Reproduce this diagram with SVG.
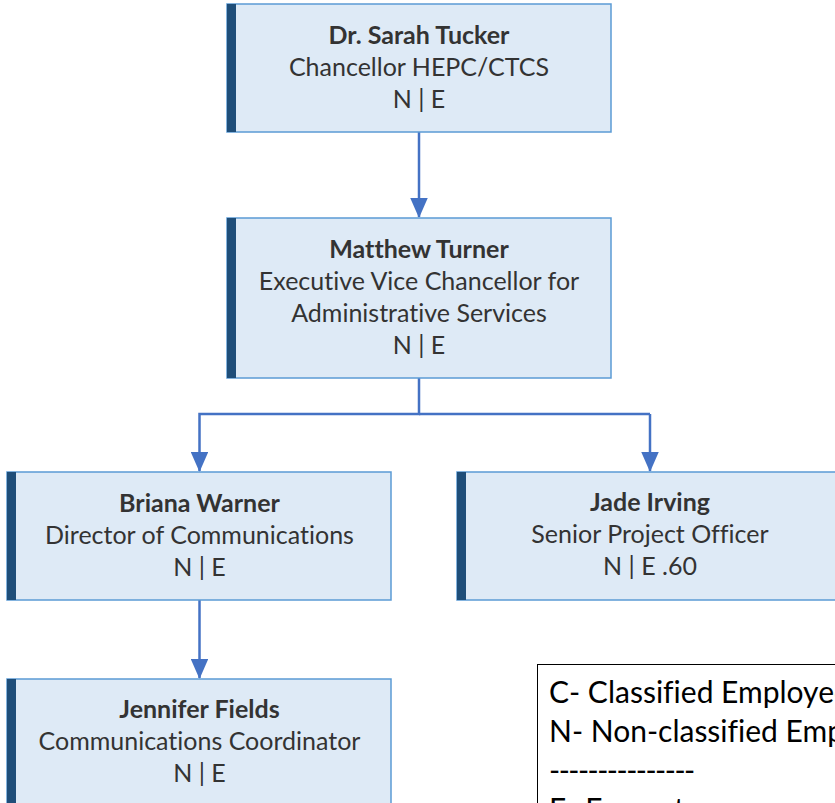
<svg xmlns="http://www.w3.org/2000/svg" width="835" height="803" viewBox="0 0 835 803">
<defs>
<style>
.box{fill:#DEEAF6;stroke:#5B9BD5;stroke-width:1.5}
.bar{fill:#1F4E79}
text{font-family:Lato,"Open Sans",sans-serif;font-size:25px;fill:#333333;text-anchor:middle;font-variant-ligatures:none;font-feature-settings:"liga" 0}
.nm{font-weight:bold}
.conn{fill:none;stroke:#4472C4;stroke-width:2.5}
.legend{fill:#FFFFFF;stroke:#000000;stroke-width:1}
.lt{text-anchor:start;fill:#000000;font-size:30px}
.dash{letter-spacing:-1.5px}
</style>
<marker id="arr" markerWidth="8" markerHeight="7" refX="7.6" refY="3.5" orient="auto" markerUnits="strokeWidth" viewBox="0 0 8 7">
<path d="M0,0 L8,3.5 L0,7 z" fill="#4472C4"/>
</marker>
</defs>
<rect width="835" height="803" fill="#FFFFFF"/>
<g id="connectors">
<path class="conn" d="M419,132 V217" marker-end="url(#arr)"/>
<path class="conn" d="M419,378 V414 H199.5 V471" marker-end="url(#arr)"/>
<path class="conn" d="M419,414 H650"/>
<path class="conn" d="M650,414 V471" marker-end="url(#arr)"/>
<path class="conn" d="M199.5,600 V678" marker-end="url(#arr)"/>
</g>
<g id="node-tucker">
<rect class="box" x="227" y="4" width="384" height="128"/>
<rect class="bar" x="227" y="4" width="9" height="128"/>
<text class="nm" x="419" y="44">Dr. Sarah Tucker</text>
<text x="419" y="76">Chancellor HEPC/CTCS</text>
<text x="419" y="108">N | E</text>
</g>
<g id="node-turner">
<rect class="box" x="227" y="218" width="384" height="160"/>
<rect class="bar" x="227" y="218" width="9" height="160"/>
<text class="nm" x="419" y="258">Matthew Turner</text>
<text x="419" y="290">Executive Vice Chancellor for</text>
<text x="419" y="322">Administrative Services</text>
<text x="419" y="354">N | E</text>
</g>
<g id="node-warner">
<rect class="box" x="7" y="472" width="384" height="128"/>
<rect class="bar" x="7" y="472" width="9" height="128"/>
<text class="nm" x="199.5" y="512">Briana Warner</text>
<text x="199.5" y="544">Director of Communications</text>
<text x="199.5" y="576">N | E</text>
</g>
<g id="node-irving">
<rect class="box" x="457" y="472" width="384" height="128"/>
<rect class="bar" x="457" y="472" width="9" height="128"/>
<text class="nm" x="650" y="511">Jade Irving</text>
<text x="650" y="543">Senior Project Officer</text>
<text x="650" y="575">N | E .60</text>
</g>
<g id="node-fields">
<rect class="box" x="7" y="679" width="384" height="140"/>
<rect class="bar" x="7" y="679" width="9" height="140"/>
<text class="nm" x="199.5" y="718">Jennifer Fields</text>
<text x="199.5" y="750">Communications Coordinator</text>
<text x="199.5" y="782">N | E</text>
</g>
<g id="legend">
<rect class="legend" x="537.5" y="664.5" width="340" height="200"/>
<text class="lt" x="549" y="703">C- Classified Employee</text>
<text class="lt" x="549" y="742">N- Non-classified Employee</text>
<text class="lt dash" x="549" y="781">---------------</text>
<text class="lt" x="549" y="820">E- Exempt</text>
</g>
</svg>
